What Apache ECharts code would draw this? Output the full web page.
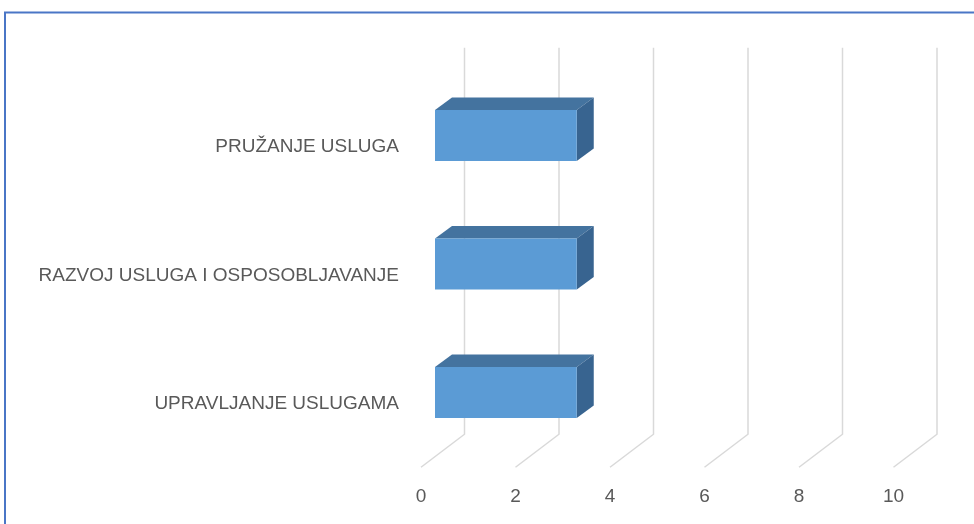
<!DOCTYPE html>
<html>
<head>
<meta charset="utf-8">
<script src="https://cdn.jsdelivr.net/npm/echarts@6/dist/echarts.min.js"></script>
<style>
  html, body { margin: 0; padding: 0; background: #fff; }
  #chart { width: 974px; height: 524px; }
</style>
</head>
<body>
<div id="chart"></div>
<script>
// podaci
const categories = ['PRUŽANJE USLUGA', 'RAZVOJ USLUGA I OSPOSOBLJAVANJE', 'UPRAVLJANJE USLUGAMA']
const values = [3, 3, 3]
const ticks = [0, 2, 4, 6, 8, 10]

const chart = echarts.init(document.getElementById('chart'))

// 3D pomak (dubina stupca i zidova)
const depthX = 17
const depthY = -12.5

// rešetka u perspektivi: stražnji zid + pod
const renderGridLine = (params, api) => {
  const p = api.coord([api.value(0), 0])
  const cs = params.coordSys
  const x = p[0]
  const top = cs.y - 35
  const bottom = cs.y + cs.height - 34
  const front = cs.y + cs.height - 1
  return {
    type: 'polyline',
    shape: { points: [[x + 29.5, top], [x + 29.5, bottom], [x - 14, front]] },
    style: { stroke: '#d9d9d9', lineWidth: 1.5, fill: null },
  }
}

// 3D stupac: prednja, gornja i desna strana
const renderBar = (params, api) => {
  const start = api.coord([0, api.value(1)])
  const end = api.coord([api.value(0), api.value(1)])
  const cy = start[1] - 11.5
  const h = 51
  const x0 = start[0]
  const x1 = end[0]
  const y0 = cy - h / 2
  const y1 = cy + h / 2
  return {
    type: 'group',
    children: [
      {
        type: 'polygon',
        shape: { points: [[x0, y0], [x0 + depthX, y0 + depthY], [x1 + depthX, y0 + depthY], [x1, y0]] },
        style: { fill: '#44739f' },
      },
      {
        type: 'polygon',
        shape: { points: [[x1, y0], [x1 + depthX, y0 + depthY], [x1 + depthX, y1 + depthY], [x1, y1]] },
        style: { fill: '#386490' },
      },
      {
        type: 'rect',
        shape: { x: x0, y: y0, width: x1 - x0, height: h },
        style: { fill: '#5b9bd5' },
      },
    ],
  }
}

const option = {
  animation: false,
  backgroundColor: '#fff',
  textStyle: { fontFamily: 'Liberation Sans' },
  graphic: [
    {
      type: 'polyline',
      shape: { points: [[5, 524], [5, 12.5], [974, 12.5]] },
      style: { stroke: '#4a76c6', lineWidth: 2, fill: null },
      z: 10,
    },
  ],
  grid: {
    left: 435,
    width: 472.5,
    top: 82.75,
    height: 385.5,
  },
  xAxis: {
    type: 'value',
    min: 0,
    max: 10,
    interval: 2,
    axisLine: { show: false },
    axisTick: { show: false },
    splitLine: { show: false },
    axisLabel: {
      color: '#595959',
      fontSize: 19,
      margin: 19,
      padding: [0, 28, 0, 0],
      fontFamily: 'Liberation Sans',
    },
  },
  yAxis: {
    type: 'category',
    inverse: true,
    data: categories,
    axisLine: { show: false },
    axisTick: { show: false },
    splitLine: { show: false },
    axisLabel: {
      color: '#595959',
      fontSize: 19,
      margin: 36,
      fontFamily: 'Liberation Sans',
    },
  },
  series: [
    {
      type: 'custom',
      name: 'grid',
      renderItem: renderGridLine,
      data: ticks.map((t) => [t, 0]),
      clip: false,
      silent: true,
      z: 1,
    },
    {
      type: 'custom',
      name: 'bars',
      renderItem: renderBar,
      encode: { x: 0, y: 1 },
      data: values.map((v, i) => [v, i]),
      clip: false,
      z: 2,
    },
  ],
}

chart.setOption(option)
</script>
</body>
</html>
